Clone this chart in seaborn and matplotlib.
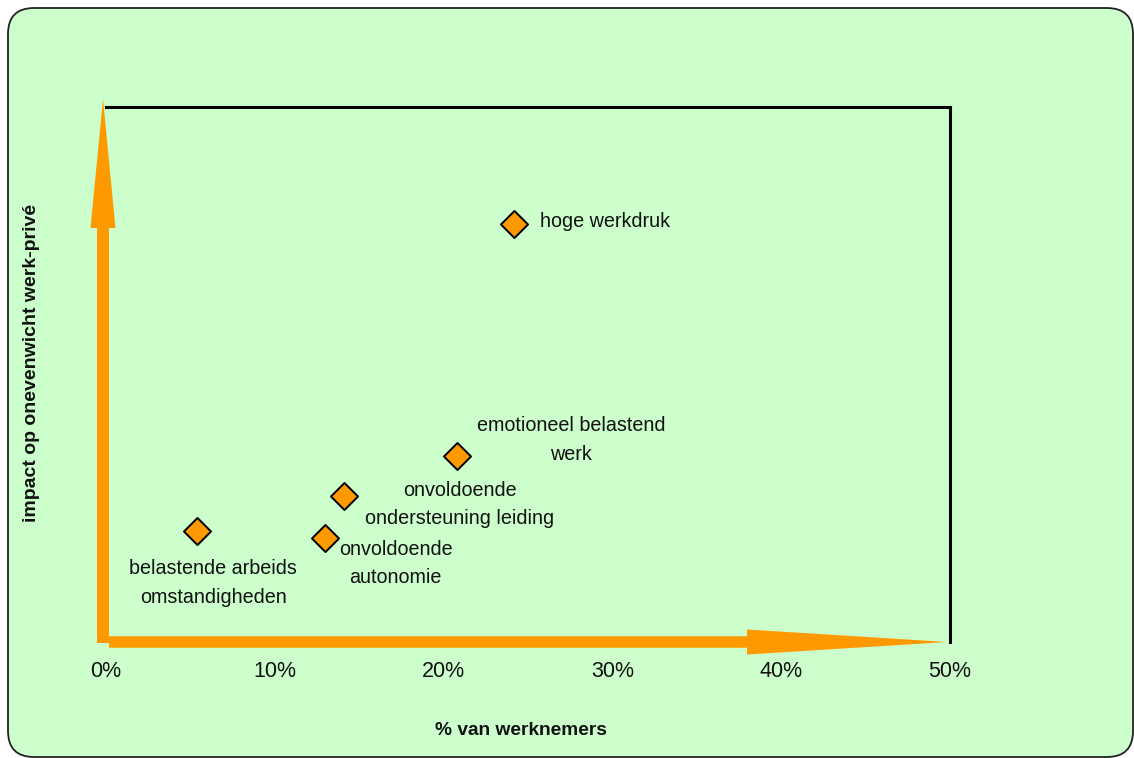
import matplotlib
matplotlib.use("Agg")
import matplotlib.pyplot as plt
import matplotlib.transforms as mtransforms
from matplotlib.patches import FancyBboxPatch
from matplotlib.ticker import FuncFormatter
import pandas as pd
import seaborn as sns

# Risk factors: share of employees affected vs. impact on work-life imbalance
factoren = [
    "hoge werkdruk",
    "emotioneel belastend\nwerk",
    "onvoldoende\nondersteuning leiding",
    "onvoldoende\nautonomie",
    "belastende arbeids\nomstandigheden",
]
pct_werknemers = [24.2, 20.8, 14.1, 13.0, 5.4]
impact = [78.1, 34.8, 27.3, 19.4, 20.8]
x_ticks = [0, 10, 20, 30, 40, 50]

# label placement relative to each marker (baseline of the last line):
# (dx px, dy px, horizontal alignment)
label_pos = [
    (26, -2.5, "left"),
    (114, -4, "center"),
    (116, -28.5, "center"),
    (70, -45, "center"),
    (16, -72, "center"),
]

ORANJE = "#FF9900"
GROEN = "#CCFFCC"

sns.set_theme(style="white")
plt.rcParams["font.family"] = ["Liberation Sans", "DejaVu Sans"]

df = pd.DataFrame({"factor": factoren, "pct": pct_werknemers, "impact": impact})

fig = plt.figure(figsize=(11.34, 7.58), dpi=100, facecolor="white")

# rounded green panel behind the chart
panel = FancyBboxPatch(
    (8, 1), 1125, 749,
    boxstyle="round,pad=0,rounding_size=26",
    facecolor=GROEN, edgecolor="#222222", linewidth=1.3,
    transform=mtransforms.IdentityTransform(), zorder=-5,
)
fig.patches.append(panel)

ax = fig.add_axes([106 / 1134, 1 - 642 / 758, 844 / 1134, 535 / 758])
ax.patch.set_visible(False)

sns.scatterplot(
    data=df, x="pct", y="impact", ax=ax, marker="D", s=190,
    color=ORANJE, edgecolor="black", linewidth=1.4, zorder=5, legend=False,
)

for naam, x, y, (dx, dy, ha) in zip(factoren, pct_werknemers, impact, label_pos):
    ax.annotate(
        naam, xy=(x, y), xytext=(dx, dy), textcoords="offset pixels",
        ha=ha, va="baseline", fontsize=14.2, linespacing=1.63,
        multialignment="center", color="#111111",
    )

ax.set_xlim(0, 50)
ax.set_ylim(0, 100)
ax.set_xticks(x_ticks)
ax.xaxis.set_major_formatter(FuncFormatter(lambda v, _: f"{v:.0f}%"))
ax.set_yticks([])
ax.tick_params(axis="x", length=0, pad=14, labelsize=15.5, labelcolor="#111111")

for side in ("left", "bottom"):
    ax.spines[side].set_visible(False)
for side in ("top", "right"):
    ax.spines[side].set_visible(True)
    ax.spines[side].set_color("black")
    ax.spines[side].set_linewidth(2.2)

ax.set_xlabel("% van werknemers", fontsize=13.8, fontweight="bold", color="#111111")
ax.xaxis.set_label_coords(415 / 844, -80 / 535)
ax.set_ylabel("impact op onevenwicht werk-privé", fontsize=14,
              fontweight="bold", color="#111111")
ax.yaxis.set_label_coords(-66 / 844, 0.5215)

# orange axis arrows
ms = 10  # mutation scale in points -> 13.89 px per unit
unit = ms * 100 / 72
ax.annotate(
    "", xy=(-3 / 844, 1 + 8 / 535), xytext=(-3 / 844, -1 / 535),
    xycoords="axes fraction", textcoords="axes fraction", annotation_clip=False,
    arrowprops=dict(
        arrowstyle=f"simple,head_length={129 / unit:.3f},head_width={25 / unit:.3f},tail_width={12 / unit:.3f}",
        color=ORANJE, mutation_scale=ms, shrinkA=0, shrinkB=0, linewidth=0,
    ),
)
ax.annotate(
    "", xy=(1 - 3 / 844, 0), xytext=(3 / 844, 0),
    xycoords="axes fraction", textcoords="axes fraction", annotation_clip=False,
    arrowprops=dict(
        arrowstyle=f"simple,head_length={200 / unit:.3f},head_width={25 / unit:.3f},tail_width={11.5 / unit:.3f}",
        color=ORANJE, mutation_scale=ms, shrinkA=0, shrinkB=0, linewidth=0,
    ),
)

fig.savefig("out.png", dpi=100, facecolor="white")
